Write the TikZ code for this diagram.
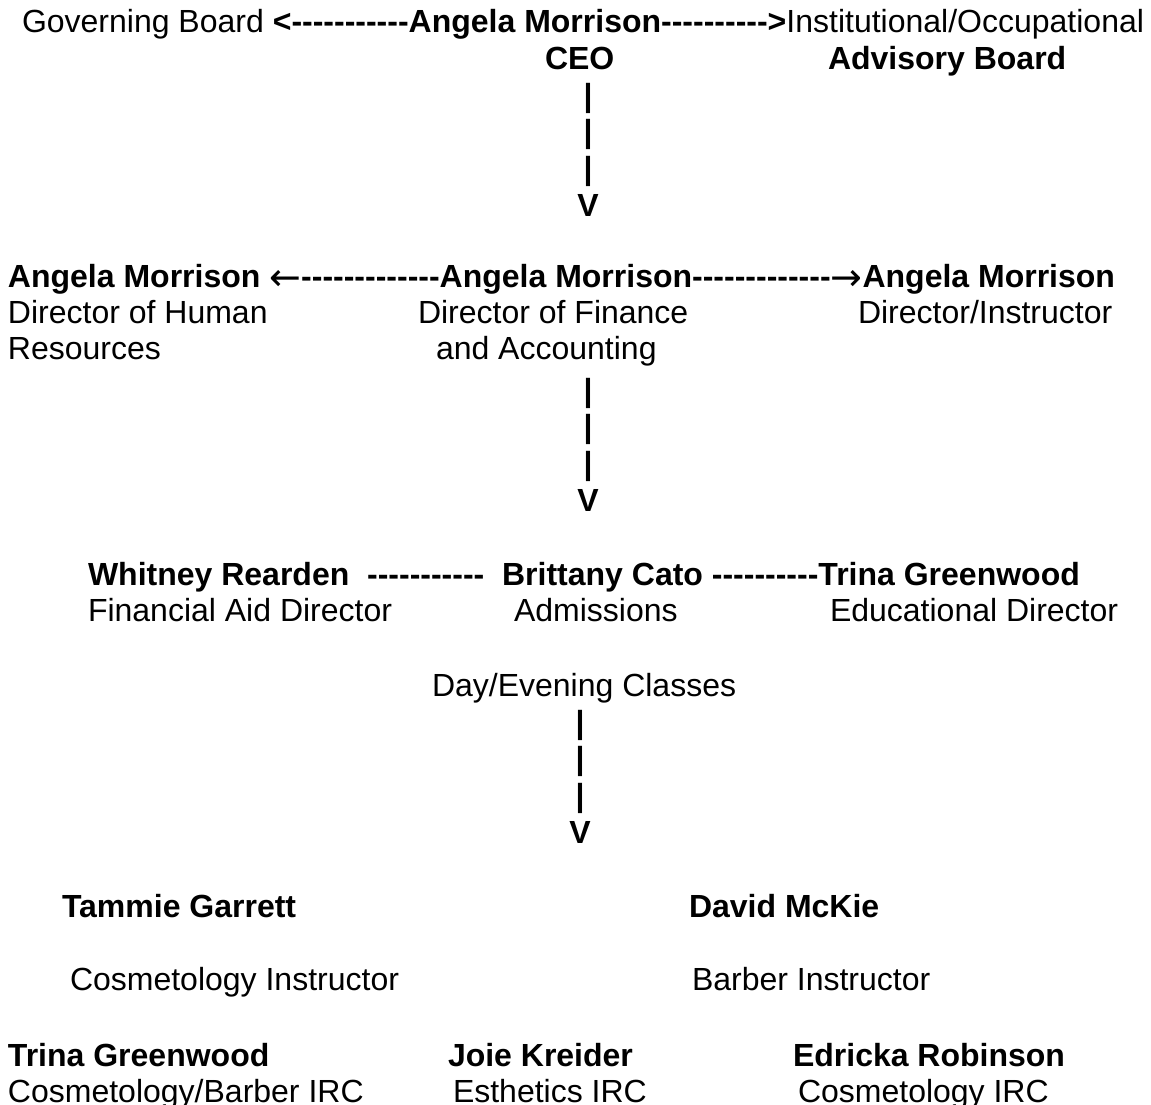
\documentclass[tikz,border=0pt]{standalone}
\usepackage{fontspec}
\newfontfamily\chartfont{Liberation Sans}
\newfontfamily\arrowfont{DejaVu Sans}
\usetikzlibrary{positioning}
\newcommand{\larr}{\raisebox{-3pt}{\arrowfont\mdseries\fontsize{38}{36}\selectfont ←}}
\newcommand{\rarr}{\raisebox{-3pt}{\arrowfont\mdseries\fontsize{38}{36}\selectfont →}}
\tikzset{
  every node/.style={inner sep=0pt, outer sep=0pt},
  txt/.style={anchor=base west, font=\chartfont\fontsize{32}{36}\selectfont},
  bld/.style={anchor=base west, font=\chartfont\bfseries\fontsize{32}{36}\selectfont},
  stem/.style={anchor=north, align=center, font=\chartfont\bfseries\fontsize{32}{36.8}\selectfont}
}
\begin{document}
\begin{tikzpicture}[x=1pt, y=-1pt]
    \useasboundingbox (0,0) rectangle (1151,1105);
    % top level
    \node at (22, 33) [txt] (ceoline) {Governing Board \textbf{<-----------Angela Morrison---------->}Institutional/Occupational};
    \node at (545, 70) [bld] (ceo) {CEO};
    \node at (828, 70) [bld] (advb) {Advisory Board};
    \node at (588, 83) [stem] (stema) {|\\|\\|\\V};

    % directors
    \node at (8, 287) [bld] (dirline) {Angela Morrison \larr-------------Angela Morrison-------------\rarr Angela Morrison};
    \node at (8, 323) [txt] (hr) {Director of Human};
    \node at (8, 359) [txt] (hrb) {Resources};
    \node at (418, 323) [txt] (fin) {Director of Finance};
    \node at (436, 359) [txt] (finb) {and Accounting};
    \node at (858, 323) [txt] (instr) {Director/Instructor};
    \node at (588, 378) [stem] (stemb) {|\\|\\|\\V};

    % staff
    \node at (88, 585) [bld] (staffline) {Whitney Rearden\ \ -----------\ \ Brittany Cato ----------Trina Greenwood};
    \node at (88, 621) [txt] (aid) {Financial Aid Director};
    \node at (514, 621) [txt] (adm) {Admissions};
    \node at (830, 621) [txt] (edu) {Educational Director};
    \node at (432, 696) [txt] (classes) {Day/Evening Classes};
    \node at (580, 710) [stem] (stemc) {|\\|\\|\\V};

    % instructors
    \node at (62, 917) [bld] (tammie) {Tammie Garrett};
    \node at (689, 917) [bld] (david) {David McKie};
    \node at (70, 990) [txt] (cosi) {Cosmetology Instructor};
    \node at (692, 990) [txt] (barb) {Barber Instructor};
    \node at (8, 1066) [bld] (trina) {Trina Greenwood};
    \node at (448, 1066) [bld] (joie) {Joie Kreider};
    \node at (793, 1066) [bld] (edricka) {Edricka Robinson};
    \node at (8, 1102) [txt] (cbirc) {Cosmetology/Barber IRC};
    \node at (453, 1102) [txt] (esth) {Esthetics IRC};
    \node at (798, 1102) [txt] (circ) {Cosmetology IRC};
\end{tikzpicture}
\end{document}
